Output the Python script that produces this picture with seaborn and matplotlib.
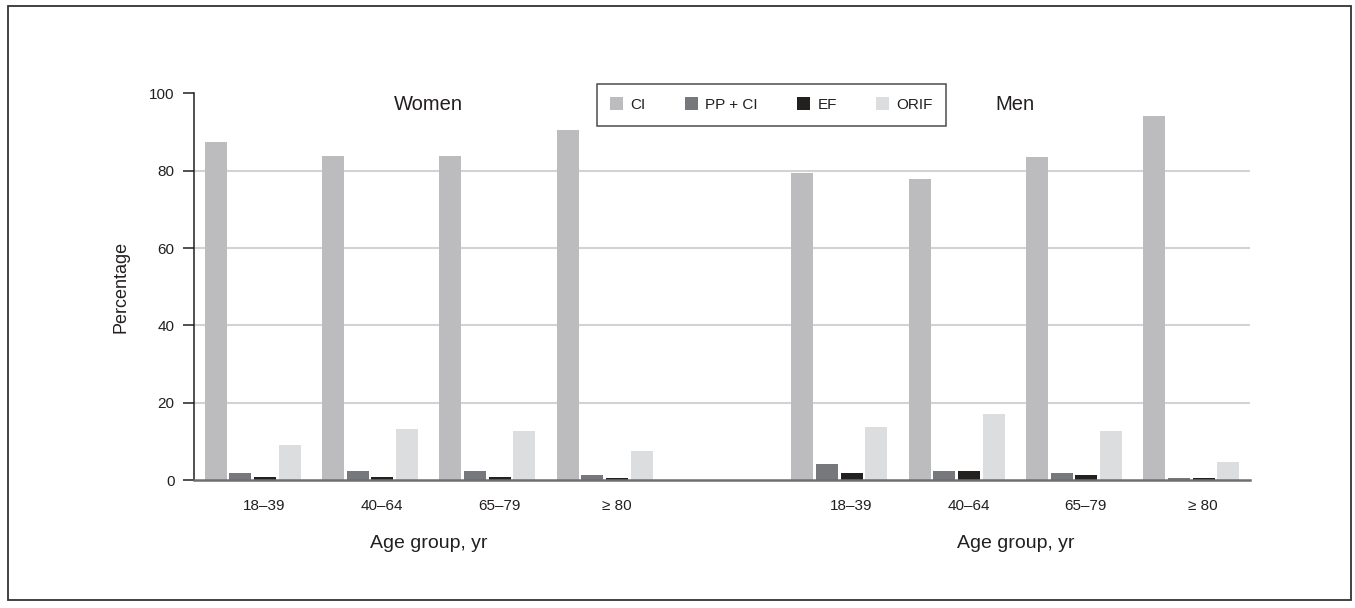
import numpy as np
import pandas as pd
import matplotlib.pyplot as plt
from matplotlib.patches import Rectangle
import seaborn as sns

# Data (percentage per treatment and age group)
age_groups = ['18–39', '40–64', '65–79', '≥ 80']
treatments = ['CI', 'PP + CI', 'EF', 'ORIF']

women_ci = [87.5, 83.8, 83.8, 90.4]
women_pp_ci = [1.7, 2.3, 2.3, 1.3]
women_ef = [0.9, 0.9, 0.9, 0.4]
women_orif = [9.0, 13.3, 12.8, 7.5]

men_ci = [79.3, 77.9, 83.6, 94.2]
men_pp_ci = [4.2, 2.3, 1.7, 0.4]
men_ef = [1.8, 2.3, 1.3, 0.5]
men_orif = [13.7, 17.2, 12.8, 4.7]

colors = {'CI': '#bbbcbf', 'PP + CI': '#77787b', 'EF': '#231f20', 'ORIF': '#dcddde'}
text_color = '#231f20'

# Build long-form table; women and men slots separated by one empty slot
rows = []
for sex, series in [('W', [women_ci, women_pp_ci, women_ef, women_orif]),
                    ('M', [men_ci, men_pp_ci, men_ef, men_orif])]:
    for t, vals in zip(treatments, series):
        for g, v in zip(age_groups, vals):
            rows.append({'slot': f'{sex} {g}', 'treatment': t, 'value': v})
df = pd.DataFrame(rows)

slot_order = [f'W {g}' for g in age_groups] + ['gap'] + [f'M {g}' for g in age_groups]

sns.set_theme(style='white')
plt.rcParams['font.family'] = ['Liberation Sans', 'DejaVu Sans']
plt.rcParams['text.color'] = text_color

fig = plt.figure(figsize=(13.55, 6.08), dpi=100)
ax = fig.add_axes([0.1432, 0.2105, 0.7793, 0.636])

sns.barplot(data=df, x='slot', y='value', hue='treatment', order=slot_order,
            hue_order=treatments, palette=colors, width=0.84, gap=0.1,
            errorbar=None, linewidth=0, legend=True, ax=ax, zorder=3)

ax.set_xlim(-0.5, 8.5)
ax.set_ylim(0, 100)
ax.set_yticks([0, 20, 40, 60, 80, 100])
ax.set_yticklabels(['0', '20', '40', '60', '80', '100'], fontsize=11, color=text_color)

# light gridlines (not at the top)
for y in [20, 40, 60, 80]:
    ax.axhline(y, color='#d1d3d4', linewidth=1.5, zorder=1)

# x tick labels under each group
tick_pos = [i + 0.1 for i in range(9) if i != 4]
ax.set_xticks(tick_pos)
ax.set_xticklabels(age_groups + age_groups, fontsize=11, color=text_color)
ax.tick_params(axis='x', length=0, pad=14)
ax.tick_params(axis='y', direction='out', length=8, width=1.1, color=text_color,
               pad=6, left=True)
ax.set_xlabel('')
ax.set_ylabel('Percentage', fontsize=13, color=text_color, labelpad=14)

for s in ['top', 'right']:
    ax.spines[s].set_visible(False)
ax.spines['left'].set_color(text_color)
ax.spines['left'].set_linewidth(1.1)
ax.spines['bottom'].set_color('#6d6e71')
ax.spines['bottom'].set_linewidth(1.8)
ax.spines['bottom'].set_zorder(4)

# panel titles and axis captions
ax.text(1.5, 97, 'Women', ha='center', va='center', fontsize=14.5, color=text_color)
ax.text(6.5, 97, 'Men', ha='center', va='center', fontsize=14.5, color=text_color)
trans = ax.get_xaxis_transform()
ax.text(1.5, -0.163, 'Age group, yr', transform=trans, ha='center', va='center',
        fontsize=14, color=text_color)
ax.text(6.5, -0.163, 'Age group, yr', transform=trans, ha='center', va='center',
        fontsize=14, color=text_color)

# legend
handles, labels = ax.get_legend_handles_labels()
leg = ax.legend(handles, labels, ncol=4, loc='center',
                bbox_to_anchor=(0.5694, 0.828), bbox_transform=fig.transFigure,
                fontsize=11, frameon=True, fancybox=False, handlelength=0.85,
                handleheight=0.85, handletextpad=0.45, columnspacing=2.6,
                borderpad=0.9)
leg.get_frame().set_edgecolor(text_color)
leg.get_frame().set_linewidth(1.1)
for t in leg.get_texts():
    t.set_color(text_color)

# outer border around the whole figure
fig.patches.append(Rectangle((0.0059, 0.013), 0.991, 0.977, transform=fig.transFigure,
                             fill=False, edgecolor='#333333', linewidth=1.3))

fig.savefig('out.png', dpi=100)
